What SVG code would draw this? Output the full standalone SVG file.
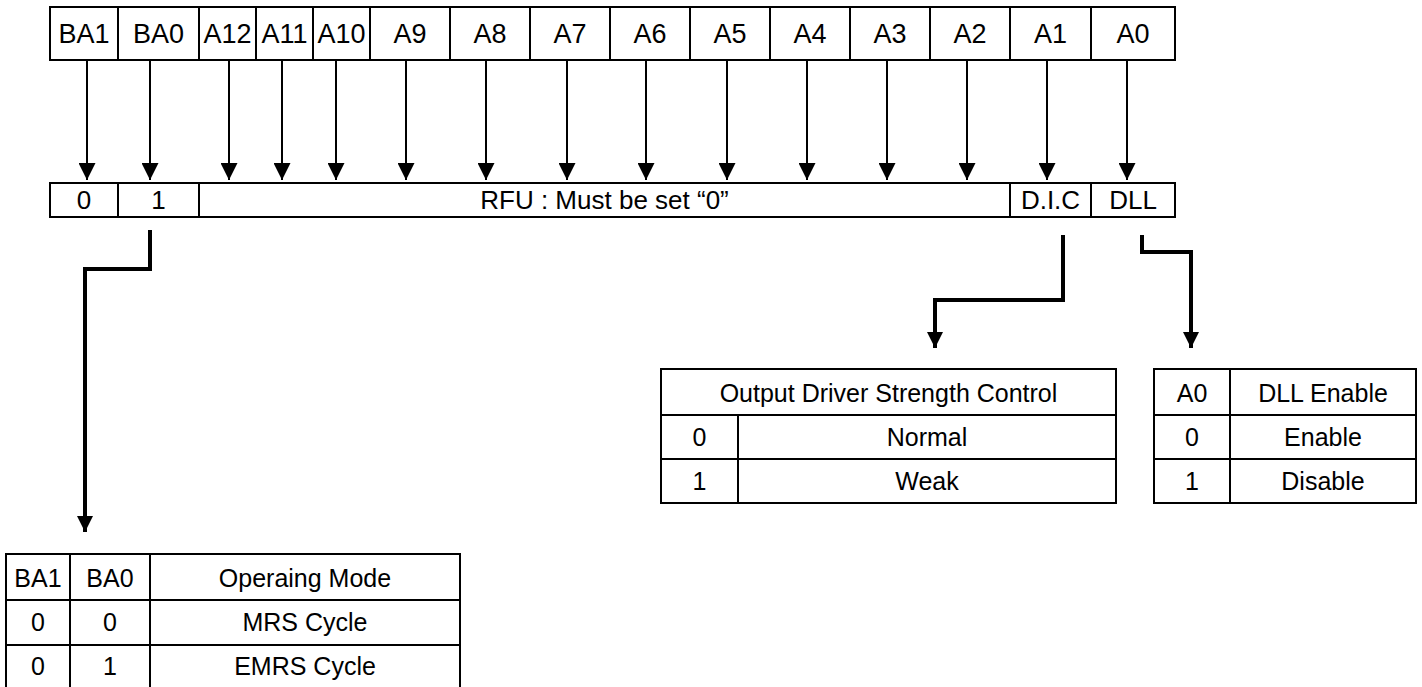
<svg xmlns="http://www.w3.org/2000/svg" width="1422" height="687" viewBox="0 0 1422 687">
<style>
  .cell { fill: #fff; stroke: #000; stroke-width: 2; }
  .grid { stroke: #000; stroke-width: 2; fill: none; }
  .t { font-family: "Liberation Sans", Arial, sans-serif; font-size: 26px; fill: #000; text-anchor: middle; }
  .th { font-size: 27px; }
  .tt { font-family: "Liberation Sans", Arial, sans-serif; font-size: 25px; fill: #000; text-anchor: middle; }
  .thin { stroke: #000; stroke-width: 2; fill: none; marker-end: url(#ah); }
  .thick { stroke: #000; stroke-width: 4; fill: none; stroke-linejoin: miter; marker-end: url(#ahb); }
</style>
<defs>
  <marker id="ah" markerUnits="userSpaceOnUse" markerWidth="17" markerHeight="17" refX="17" refY="8.5" orient="auto">
    <path d="M0,0 L17,8.5 L0,17 Z" fill="#000"/>
  </marker>
  <marker id="ahb" markerUnits="userSpaceOnUse" markerWidth="16" markerHeight="16" refX="16" refY="8" orient="auto">
    <path d="M0,0 L16,8 L0,16 Z" fill="#000"/>
  </marker>
</defs>
<rect width="1422" height="687" fill="#fff"/>

<g id="address-bits">
  <g id="bit-BA1"><rect class="cell" x="50" y="7" width="68" height="53"/><text class="t th" x="84" y="43">BA1</text></g>
  <g id="bit-BA0"><rect class="cell" x="118" y="7" width="81" height="53"/><text class="t th" x="158.5" y="43">BA0</text></g>
  <g id="bit-A12"><rect class="cell" x="199" y="7" width="57" height="53"/><text class="t th" x="227.5" y="43">A12</text></g>
  <g id="bit-A11"><rect class="cell" x="256" y="7" width="57" height="53"/><text class="t th" x="284.5" y="43">A11</text></g>
  <g id="bit-A10"><rect class="cell" x="313" y="7" width="57" height="53"/><text class="t th" x="341.5" y="43">A10</text></g>
  <g id="bit-A9"><rect class="cell" x="370" y="7" width="80" height="53"/><text class="t th" x="410" y="43">A9</text></g>
  <g id="bit-A8"><rect class="cell" x="450" y="7" width="80" height="53"/><text class="t th" x="490" y="43">A8</text></g>
  <g id="bit-A7"><rect class="cell" x="530" y="7" width="80" height="53"/><text class="t th" x="570" y="43">A7</text></g>
  <g id="bit-A6"><rect class="cell" x="610" y="7" width="80" height="53"/><text class="t th" x="650" y="43">A6</text></g>
  <g id="bit-A5"><rect class="cell" x="690" y="7" width="80" height="53"/><text class="t th" x="730" y="43">A5</text></g>
  <g id="bit-A4"><rect class="cell" x="770" y="7" width="80" height="53"/><text class="t th" x="810" y="43">A4</text></g>
  <g id="bit-A3"><rect class="cell" x="850" y="7" width="80" height="53"/><text class="t th" x="890" y="43">A3</text></g>
  <g id="bit-A2"><rect class="cell" x="930" y="7" width="80" height="53"/><text class="t th" x="970" y="43">A2</text></g>
  <g id="bit-A1"><rect class="cell" x="1010" y="7" width="81" height="53"/><text class="t th" x="1050.5" y="43">A1</text></g>
  <g id="bit-A0"><rect class="cell" x="1091" y="7" width="84" height="53"/><text class="t th" x="1133" y="43">A0</text></g>
</g>

<g id="register-fields">
  <g id="field-ba1"><rect class="cell" x="50" y="183" width="68" height="34"/><text class="t" x="84" y="209">0</text></g>
  <g id="field-ba0"><rect class="cell" x="118" y="183" width="81" height="34"/><text class="t" x="158.5" y="209">1</text></g>
  <g id="field-rfu"><rect class="cell" x="199" y="183" width="811" height="34"/><text class="t" x="604.5" y="209">RFU : Must be set “0”</text></g>
  <g id="field-dic"><rect class="cell" x="1010" y="183" width="81" height="34"/><text class="t" x="1050.5" y="209">D.I.C</text></g>
  <g id="field-dll"><rect class="cell" x="1091" y="183" width="84" height="34"/><text class="t" x="1133" y="209">DLL</text></g>
</g>

<g id="connectors">
  <line class="thin" x1="87" y1="60" x2="87" y2="180"/>
  <line class="thin" x1="150" y1="60" x2="150" y2="180"/>
  <line class="thin" x1="229" y1="60" x2="229" y2="180"/>
  <line class="thin" x1="282" y1="60" x2="282" y2="180"/>
  <line class="thin" x1="336" y1="60" x2="336" y2="180"/>
  <line class="thin" x1="406" y1="60" x2="406" y2="180"/>
  <line class="thin" x1="486" y1="60" x2="486" y2="180"/>
  <line class="thin" x1="567" y1="60" x2="567" y2="180"/>
  <line class="thin" x1="646" y1="60" x2="646" y2="180"/>
  <line class="thin" x1="727" y1="60" x2="727" y2="180"/>
  <line class="thin" x1="807" y1="60" x2="807" y2="180"/>
  <line class="thin" x1="887" y1="60" x2="887" y2="180"/>
  <line class="thin" x1="967" y1="60" x2="967" y2="180"/>
  <line class="thin" x1="1047" y1="60" x2="1047" y2="180"/>
  <line class="thin" x1="1127" y1="60" x2="1127" y2="180"/>
  <path class="thick" d="M150,230 V269 H85 V532"/>
  <path class="thick" d="M1063,235 V300 H935 V348"/>
  <path class="thick" d="M1142,235 V252 H1191 V348"/>
</g>

<g id="table-operating-mode">
  <rect class="grid" x="6" y="554" width="454" height="160"/>
  <line class="grid" x1="6" y1="600" x2="460" y2="600"/>
  <line class="grid" x1="6" y1="645" x2="460" y2="645"/>
  <line class="grid" x1="70" y1="554" x2="70" y2="700"/>
  <line class="grid" x1="150" y1="554" x2="150" y2="700"/>
  <text class="tt" x="38" y="587">BA1</text><text class="tt" x="110" y="587">BA0</text><text class="tt" x="305" y="587">Operaing Mode</text>
  <text class="tt" x="38" y="631">0</text><text class="tt" x="110" y="631">0</text><text class="tt" x="305" y="631">MRS Cycle</text>
  <text class="tt" x="38" y="675">0</text><text class="tt" x="110" y="675">1</text><text class="tt" x="305" y="675">EMRS Cycle</text>
</g>

<g id="table-output-driver">
  <rect class="grid" x="661" y="369" width="455" height="134"/>
  <line class="grid" x1="661" y1="415" x2="1116" y2="415"/>
  <line class="grid" x1="661" y1="459" x2="1116" y2="459"/>
  <line class="grid" x1="738" y1="415" x2="738" y2="503"/>
  <text class="tt" x="888.5" y="402">Output Driver Strength Control</text>
  <text class="tt" x="699.5" y="446">0</text><text class="tt" x="927" y="446">Normal</text>
  <text class="tt" x="699.5" y="490">1</text><text class="tt" x="927" y="490">Weak</text>
</g>

<g id="table-dll-enable">
  <rect class="grid" x="1154" y="369" width="262" height="134"/>
  <line class="grid" x1="1154" y1="415" x2="1416" y2="415"/>
  <line class="grid" x1="1154" y1="459" x2="1416" y2="459"/>
  <line class="grid" x1="1230" y1="369" x2="1230" y2="503"/>
  <text class="tt" x="1192" y="402">A0</text><text class="tt" x="1323" y="402">DLL Enable</text>
  <text class="tt" x="1192" y="446">0</text><text class="tt" x="1323" y="446">Enable</text>
  <text class="tt" x="1192" y="490">1</text><text class="tt" x="1323" y="490">Disable</text>
</g>
</svg>
